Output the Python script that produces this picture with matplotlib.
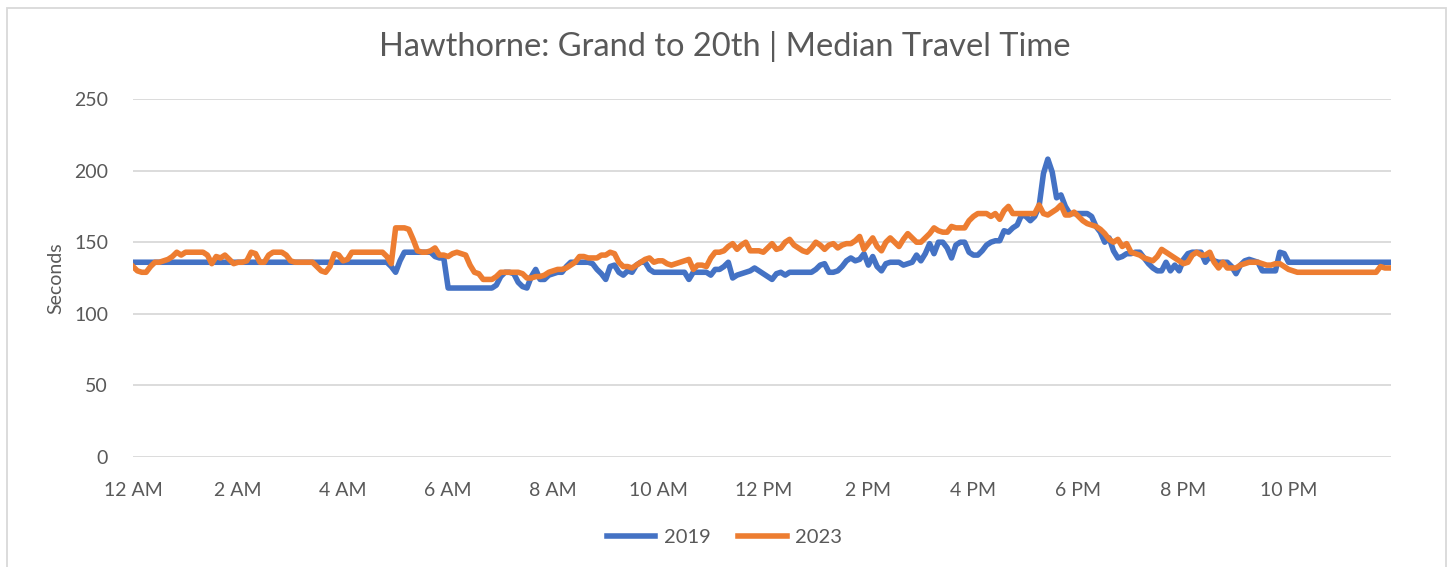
import numpy as np
import matplotlib.pyplot as plt
from matplotlib.patches import Rectangle

# median travel time (seconds), one value per 5 minutes, one row per hour
y2019 = [
    136, 136, 136, 136, 136, 136, 136, 136, 136, 136, 136, 136,  # 12 AM
    136, 136, 136, 136, 136, 136, 136, 136, 136, 136, 136, 136,  # 1 AM
    136, 136, 136, 136, 136, 136, 136, 136, 136, 136, 136, 136,  # 2 AM
    136, 136, 136, 136, 136, 136, 136, 136, 136, 136, 136, 136,  # 3 AM
    136, 136, 136, 136, 136, 136, 136, 136, 136, 136, 136, 133,  # 4 AM
    129, 137, 143, 143, 143, 143, 143, 143, 143, 140, 139, 139,  # 5 AM
    118, 118, 118, 118, 118, 118, 118, 118, 118, 118, 118, 120,  # 6 AM
    126, 129, 129, 128, 122, 119, 118, 126, 131, 124, 124, 127,  # 7 AM
    128, 129, 129, 133, 136, 136, 136, 136, 136, 135, 131, 128,  # 8 AM
    124, 133, 134, 129, 127, 130, 129, 134, 136, 136, 131, 129,  # 9 AM
    129, 129, 129, 129, 129, 129, 129, 124, 129, 129, 129, 129,  # 10 AM
    127, 131, 131, 133, 136, 125, 127, 128, 129, 130, 132, 130,  # 11 AM
    128, 126, 124, 128, 129, 127, 129, 129, 129, 129, 129, 129,  # 12 PM
    131, 134, 135, 129, 129, 130, 133, 137, 139, 137, 138, 142,  # 1 PM
    134, 140, 133, 130, 135, 136, 136, 136, 134, 135, 136, 141,  # 2 PM
    137, 142, 149, 142, 150, 150, 146, 139, 148, 150, 150, 143,  # 3 PM
    141, 141, 144, 148, 150, 151, 151, 158, 157, 160, 162, 169,  # 4 PM
    168, 165, 168, 175, 198, 208, 199, 181, 183, 175, 170, 170,  # 5 PM
    170, 170, 170, 168, 161, 157, 150, 153, 144, 139, 140, 142,  # 6 PM
    142, 143, 143, 139, 135, 132, 130, 130, 136, 130, 134, 130,  # 7 PM
    138, 142, 143, 143, 143, 136, 140, 137, 136, 136, 136, 133,  # 8 PM
    128, 134, 137, 138, 137, 136, 130, 130, 130, 130, 143, 142,  # 9 PM
    136, 136, 136, 136, 136, 136, 136, 136, 136, 136, 136, 136,  # 10 PM
    136, 136, 136, 136, 136, 136, 136, 136, 136, 136, 136, 136,  # 11 PM
]
y2023 = [
    133, 130, 129, 129, 133, 136, 136, 137, 138, 140, 143, 141,  # 12 AM
    143, 143, 143, 143, 143, 141, 135, 140, 139, 141, 138, 135,  # 1 AM
    136, 136, 137, 143, 142, 136, 136, 141, 143, 143, 143, 141,  # 2 AM
    137, 136, 136, 136, 136, 136, 133, 130, 129, 133, 142, 141,  # 3 AM
    137, 138, 143, 143, 143, 143, 143, 143, 143, 143, 140, 135,  # 4 AM
    160, 160, 160, 159, 152, 144, 143, 143, 144, 146, 141, 141,  # 5 AM
    140, 142, 143, 142, 141, 134, 129, 128, 124, 124, 124, 126,  # 6 AM
    129, 129, 129, 129, 129, 128, 125, 125, 126, 126, 127, 129,  # 7 AM
    130, 131, 131, 132, 134, 136, 140, 140, 139, 139, 139, 141,  # 8 AM
    141, 143, 142, 136, 133, 133, 132, 134, 136, 138, 139, 136,  # 9 AM
    137, 137, 135, 134, 135, 136, 137, 138, 131, 134, 134, 133,  # 10 AM
    139, 143, 143, 144, 147, 149, 145, 148, 150, 144, 144, 144,  # 11 AM
    143, 146, 149, 145, 146, 150, 152, 148, 146, 144, 143, 146,  # 12 PM
    150, 148, 145, 148, 149, 146, 148, 149, 149, 151, 154, 145,  # 1 PM
    149, 153, 147, 144, 150, 153, 150, 147, 152, 156, 153, 150,  # 2 PM
    150, 153, 156, 160, 158, 157, 157, 161, 160, 160, 160, 165,  # 3 PM
    168, 170, 170, 170, 168, 170, 166, 172, 175, 170, 170, 170,  # 4 PM
    170, 170, 170, 176, 170, 169, 171, 173, 176, 169, 169, 171,  # 5 PM
    168, 165, 163, 162, 161, 159, 156, 152, 150, 152, 147, 149,  # 6 PM
    143, 142, 141, 139, 138, 137, 140, 145, 143, 141, 139, 137,  # 7 PM
    135, 136, 141, 143, 141, 141, 143, 136, 132, 136, 132, 132,  # 8 PM
    132, 134, 135, 136, 136, 136, 135, 134, 134, 135, 135, 133,  # 9 PM
    131, 130, 129, 129, 129, 129, 129, 129, 129, 129, 129, 129,  # 10 PM
    129, 129, 129, 129, 129, 129, 129, 129, 129, 133, 132, 132,  # 11 PM
]
tick_labels = ['12 AM', '2 AM', '4 AM', '6 AM', '8 AM', '10 AM',
               '12 PM', '2 PM', '4 PM', '6 PM', '8 PM', '10 PM']

plt.rcParams['font.family'] = ['Lato', 'DejaVu Sans']
grey = '#595959'

fig = plt.figure(figsize=(14.49, 5.67), dpi=100)
ax = fig.add_axes([133 / 1449, 1 - 457 / 567, 1258 / 1449, 358 / 567])

x = np.arange(len(y2019))
ax.plot(x, y2019, color='#4472C4', lw=4, label='2019', solid_joinstyle='round')
ax.plot(x, y2023, color='#ED7D31', lw=4, label='2023', solid_joinstyle='round')

ax.set_xlim(0, 287.4)
ax.set_ylim(0, 250)
ax.set_yticks(range(0, 251, 50))
ax.set_xticks(np.arange(0, 288, 24))
ax.set_xticklabels(tick_labels)
ax.grid(axis='y', color='#D9D9D9', lw=1.3)
ax.set_axisbelow(True)
for s in ax.spines.values():
    s.set_visible(False)
ax.tick_params(axis='both', length=0, labelsize=14, colors=grey)
ax.tick_params(axis='y', pad=18)
ax.tick_params(axis='x', pad=18)
ax.set_ylabel('Seconds', fontsize=14, color=grey, labelpad=7)

fig.text(0.5, 1 - 47 / 567, 'Hawthorne: Grand to 20th | Median Travel Time',
         ha='center', va='center', fontsize=23.5, color=grey)

fig.legend(loc='center', bbox_to_anchor=(0.5, 1 - 537 / 567), ncol=2,
           frameon=False, fontsize=14.5, labelcolor=grey, handlelength=2.4,
           columnspacing=1.4, handletextpad=0.4)

fig.patches.append(Rectangle((7 / 1449, -0.05), 1439 / 1449, 1.05 - 8 / 567,
                             transform=fig.transFigure, fill=False,
                             edgecolor='#D9D9D9', lw=1.3))

fig.savefig('out.png', dpi=100)
